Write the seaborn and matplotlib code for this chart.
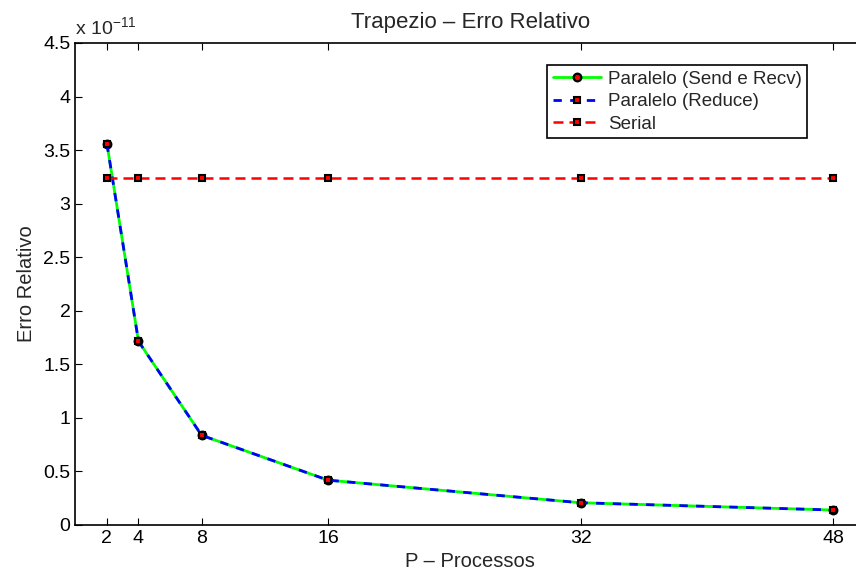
import numpy as np
import pandas as pd
import matplotlib
matplotlib.use("Agg")
import matplotlib.pyplot as plt
import seaborn as sns

# data (erro relativo, in units of 1e-11)
procs = [2, 4, 8, 16, 32, 48]
erro_send_recv = [3.56, 1.713, 0.835, 0.416, 0.205, 0.137]
erro_reduce = [3.56, 1.713, 0.835, 0.416, 0.205, 0.137]
erro_serial = [3.236, 3.236, 3.236, 3.236, 3.236, 3.236]
yticks = [0, 0.5, 1, 1.5, 2, 2.5, 3, 3.5, 4, 4.5]

sns.set_style("ticks")
plt.rcParams["font.family"] = ["Liberation Sans", "DejaVu Sans"]
plt.rcParams["mathtext.fontset"] = "custom"
plt.rcParams["mathtext.rm"] = "Liberation Sans"
plt.rcParams["mathtext.it"] = "Liberation Sans"

fig = plt.figure(figsize=(8.56, 5.74), dpi=100)
ax = fig.add_axes([0.088, 0.0859, 0.9223, 0.8392])

sns.lineplot(x=procs, y=erro_send_recv, ax=ax, color="#00ff00", linewidth=2,
             marker="o", markersize=5.5, markerfacecolor="red",
             markeredgecolor="black", markeredgewidth=1.6,
             label="Paralelo (Send e Recv)")
sns.lineplot(x=procs, y=erro_reduce, ax=ax, color="blue", linewidth=2,
             linestyle=(0, (3, 3)), marker="s", markersize=4.5,
             markerfacecolor="red", markeredgecolor="black",
             markeredgewidth=1.5, label="Paralelo (Reduce)")
sns.lineplot(x=procs, y=erro_serial, ax=ax, color="red", linewidth=1.8,
             linestyle=(0, (4, 2.4)), marker="s", markersize=4.5,
             markerfacecolor="red", markeredgecolor="black",
             markeredgewidth=1.5, label="Serial")

ax.set_xlim(0, 50)
ax.set_ylim(0, 4.5)
ax.set_xticks(procs)
ax.set_yticks(yticks)
ax.set_yticklabels(["%g" % t for t in yticks])
ax.tick_params(direction="in", top=True, right=False, length=5,
               width=0.8, labelsize=14, colors="black")
ax.spines["right"].set_visible(False)
for s in ax.spines.values():
    s.set_linewidth(1.2)
    s.set_color("black")

ax.set_title("Trapezio \u2013 Erro Relativo", fontsize=16, pad=11)
ax.set_xlabel("P \u2013 Processos", fontsize=14.5, labelpad=4)
ax.set_ylabel("Erro Relativo", fontsize=14.5)
ax.yaxis.set_label_coords(-0.05, 0.5)
ax.text(0.0, 1.019, "x 10$^{-11}$", transform=ax.transAxes, fontsize=14,
        ha="left", va="baseline")

leg = ax.legend(loc="upper right", bbox_to_anchor=(0.927, 0.954),
                fontsize=13.5, frameon=True, fancybox=False, shadow=False,
                handlelength=2.56, borderpad=0.3, labelspacing=0.28,
                handletextpad=0.37, borderaxespad=0)
leg.get_frame().set_edgecolor("black")
leg.get_frame().set_linewidth(1.2)
leg.get_frame().set_alpha(1)

fig.savefig("out.png", dpi=100)
